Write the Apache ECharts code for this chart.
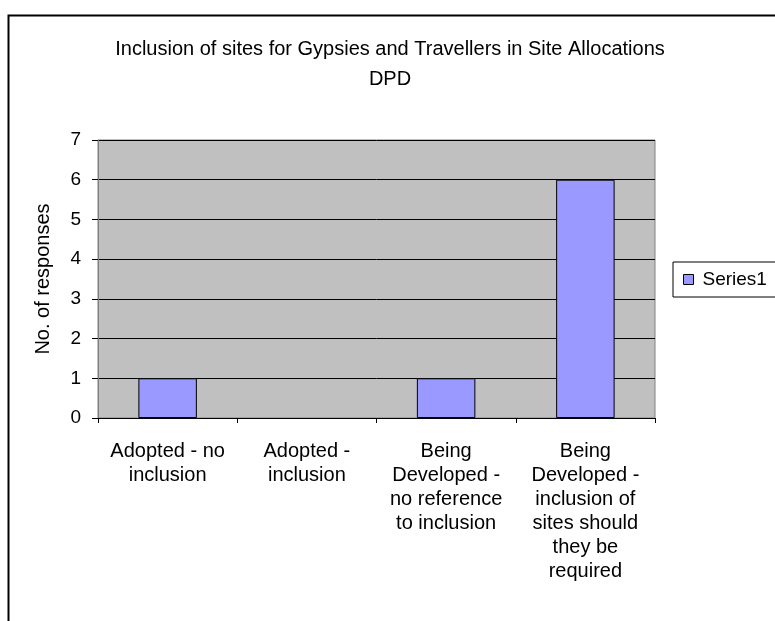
<!DOCTYPE html>
<html>
<head>
<meta charset="utf-8">
<script src="https://cdn.jsdelivr.net/npm/echarts@6/dist/echarts.min.js"></script>
<style>
html,body{margin:0;padding:0;background:#fff;}
#c{width:775px;height:621px;}
</style>
</head>
<body>
<div id="c"></div>
<script>
var titleText = "Inclusion of sites for Gypsies and Travellers in Site Allocations\nDPD";
var categories = [
  "Adopted - no\ninclusion",
  "Adopted -\ninclusion",
  "Being\nDeveloped -\nno reference\nto inclusion",
  "Being\nDeveloped -\ninclusion of\nsites should\nthey be\nrequired"
];
var seriesName = "Series1";
var values = [1, 0, 1, 6];
var yAxisName = "No. of responses";

var FONT = "Liberation Sans, Arial, sans-serif";
var chart = echarts.init(document.getElementById('c'), null, {renderer: 'canvas'});
chart.setOption({
  animation: false,
  backgroundColor: '#ffffff',
  textStyle: {fontFamily: FONT, color: '#000'},
  graphic: [{
    type: 'rect', left: 6, top: 13, z: 100,
    shape: {width: 900, height: 900},
    style: {fill: 'none', stroke: '#000', lineWidth: 2}
  }],
  title: {
    text: titleText,
    left: 385, textAlign: 'center', top: 29,
    textStyle: {fontFamily: FONT, fontSize: 20, fontWeight: 'normal', color: '#000', lineHeight: 30}
  },
  legend: {
    left: 673, top: 262,
    orient: 'vertical',
    data: [seriesName],
    icon: 'rect',
    itemWidth: 10, itemHeight: 10, itemGap: 0,
    padding: [8, 30, 8, 10],
    borderColor: '#000', borderWidth: 1,
    textStyle: {fontFamily: FONT, fontSize: 19, color: '#000', padding: [0, 0, 0, 4]},
    itemStyle: {borderColor: '#000', borderWidth: 1}
  },
  grid: {
    left: 98, right: 120, top: 140, bottom: 203,
    show: true, backgroundColor: '#C0C0C0', borderColor: '#808080', borderWidth: 1
  },
  xAxis: {
    type: 'category',
    data: categories,
    axisLine: {show: true, lineStyle: {color: '#000', width: 1}},
    axisTick: {show: true, alignWithLabel: false, length: 5, lineStyle: {color: '#000'}},
    axisLabel: {interval: 0, fontFamily: FONT, fontSize: 20, color: '#000', lineHeight: 24, margin: 21, align: 'center'},
    splitLine: {show: false}
  },
  yAxis: {
    type: 'value',
    min: 0, max: 7, interval: 1,
    name: yAxisName, nameLocation: 'middle', nameGap: 45, nameRotate: 90,
    nameTextStyle: {fontFamily: FONT, fontSize: 20, color: '#000'},
    axisLine: {show: true, lineStyle: {color: '#808080', width: 1}},
    axisTick: {show: true, length: 6, lineStyle: {color: '#000'}},
    axisLabel: {fontFamily: FONT, fontSize: 19, color: '#000', margin: 17},
    splitLine: {show: true, lineStyle: {color: '#000', width: 1}}
  },
  series: [{
    name: seriesName,
    type: 'bar',
    data: values.map(function (v) {
      return v === 0 ? {value: v, itemStyle: {borderWidth: 0}} : v;
    }),
    barWidth: '42%',
    itemStyle: {color: '#9999FF', borderColor: '#000', borderWidth: 1}
  }]
});
</script>
</body>
</html>
